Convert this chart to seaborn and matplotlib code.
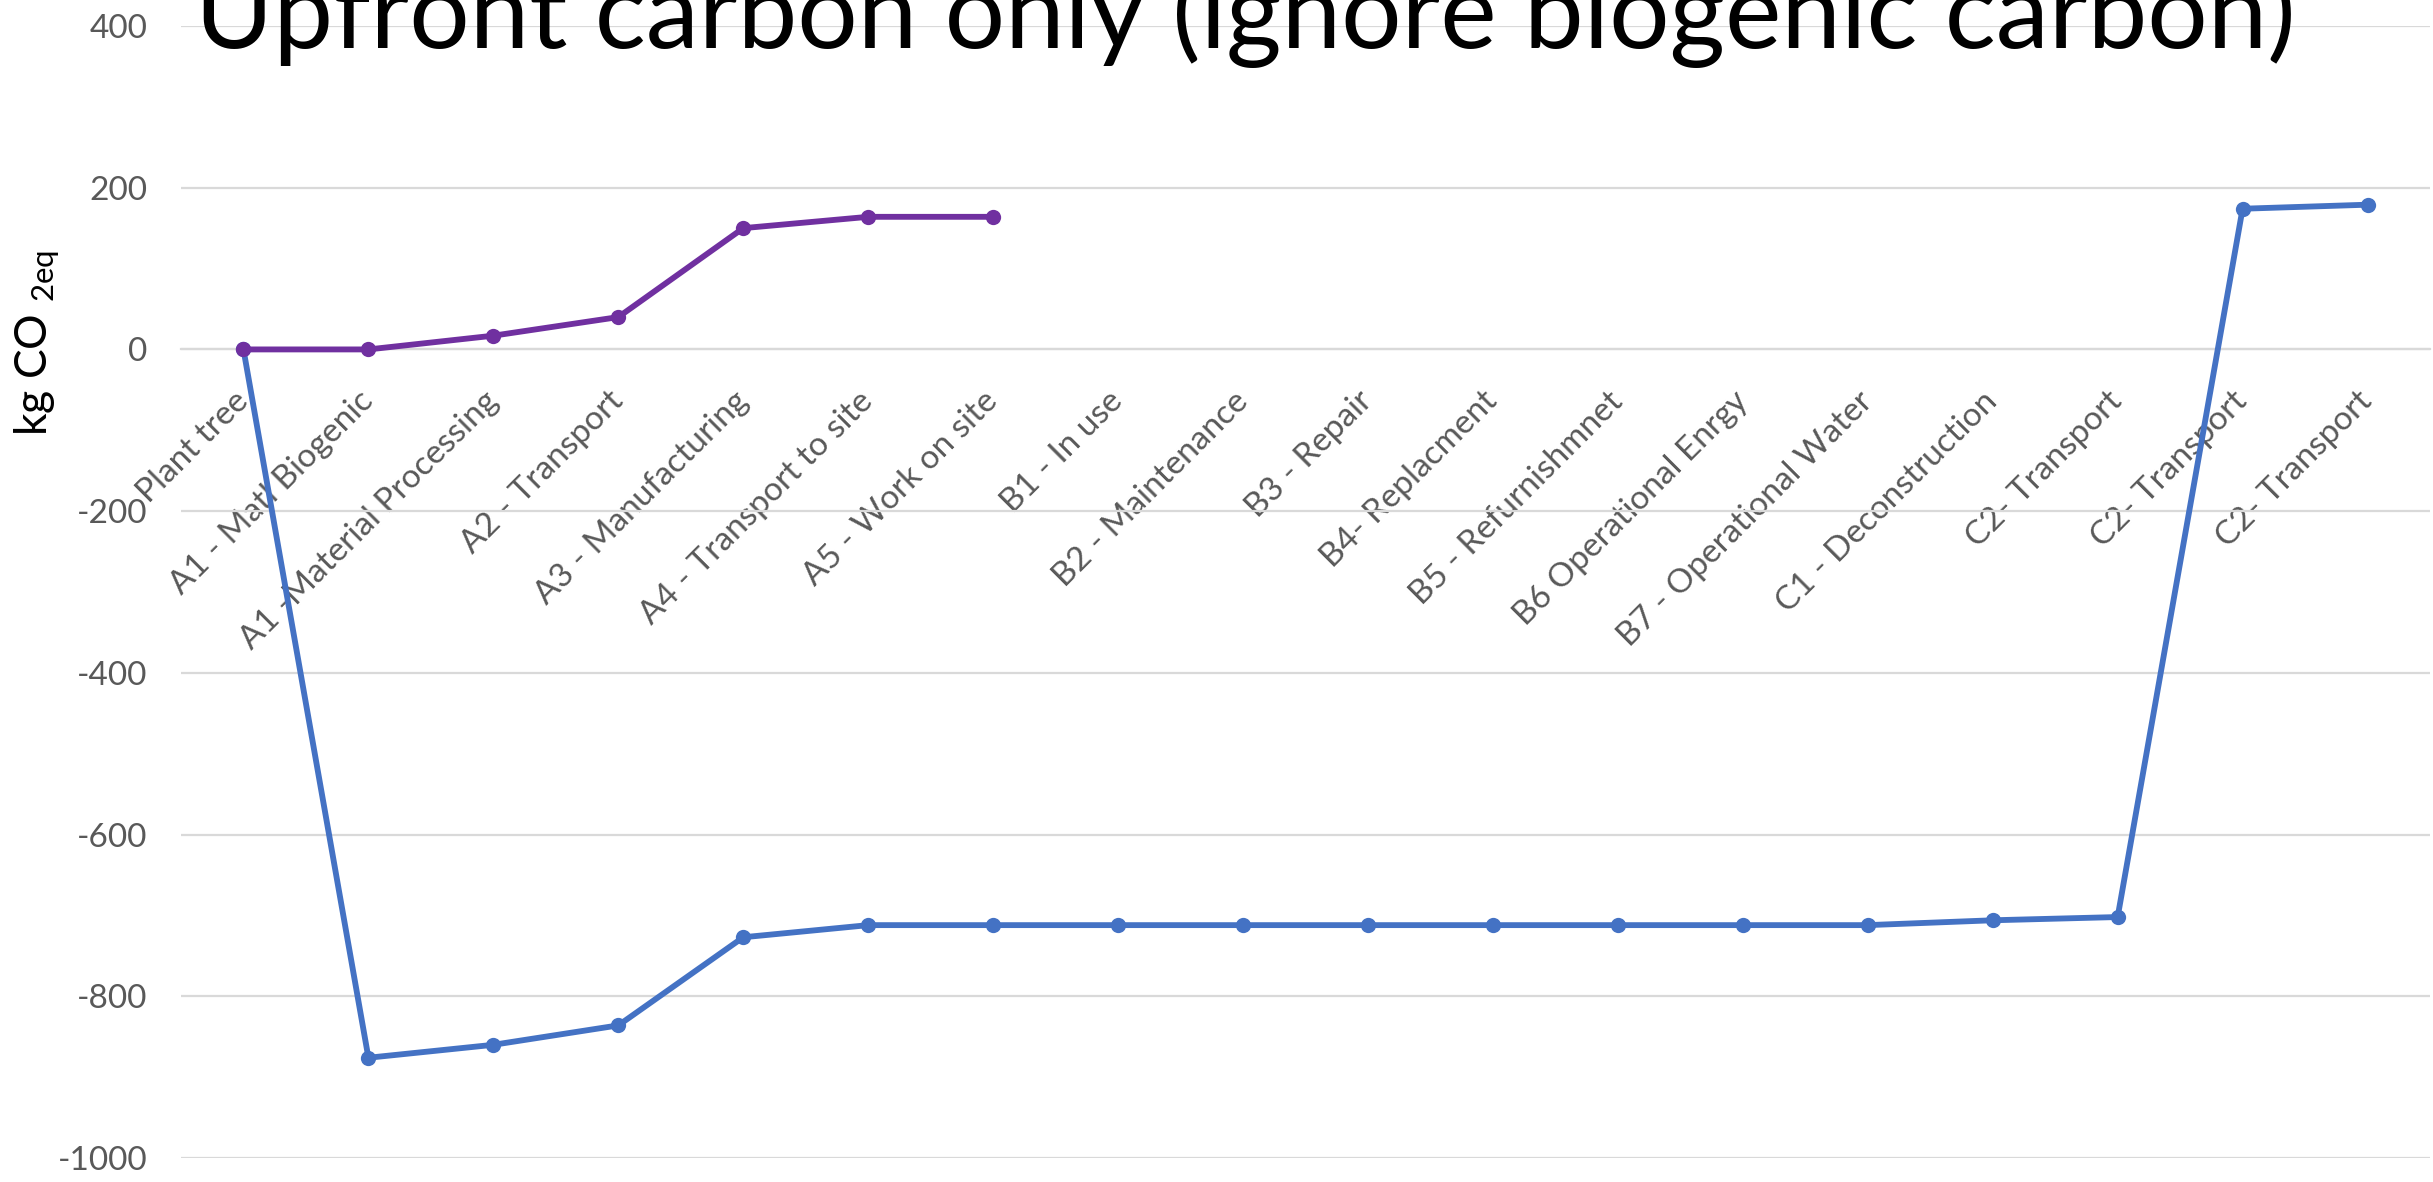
import matplotlib
matplotlib.use("Agg")
import matplotlib.pyplot as plt
import seaborn as sns
import pandas as pd

# Life-cycle stages (EN 15978 modules)
stages = [
    "Plant tree",
    "A1 - Matl Biogenic",
    "A1 -Material Processing",
    "A2 - Transport",
    "A3 - Manufacturing",
    "A4 - Transport to site",
    "A5 - Work on site",
    "B1 - In use",
    "B2 - Maintenance",
    "B3 - Repair",
    "B4- Replacment",
    "B5 - Refurnishmnet",
    "B6 Operational Enrgy",
    "B7 - Operational Water",
    "C1 - Deconstruction",
    "C2- Transport",
    "C2- Transport",
    "C2- Transport",
]

# Cumulative kg CO2eq including biogenic carbon
with_biogenic = [0, -876, -860, -836, -727, -712, -712,
                 -712, -712, -712, -712, -712, -712, -712,
                 -706, -702, 174, 179]

# Cumulative upfront carbon only (A1-A5)
upfront_only = [0, 0, 17, 40, 150, 164, 164]

title = "Upfront carbon only (ignore biogenic carbon)"
y_ticks = [-1000, -800, -600, -400, -200, 0, 200, 400]

BLUE = "#4472C4"
PURPLE = "#7030A0"
TICK_GRAY = "#595959"
GRID_GRAY = "#D9D9D9"

sns.set_theme(style="white")
plt.rcParams["font.family"] = ["Lato", "DejaVu Sans"]
plt.rcParams["mathtext.fontset"] = "custom"
plt.rcParams["mathtext.rm"] = "Lato"

W, H, DPI = 2433, 1182, 100
fig = plt.figure(figsize=(W / DPI, H / DPI), dpi=DPI)
ax = fig.add_axes([181 / W, 1 - 1158 / H, (2430 - 181) / W, (1158 - 26) / H])

df_bio = pd.DataFrame({"pos": range(len(with_biogenic)), "value": with_biogenic})
df_up = pd.DataFrame({"pos": range(len(upfront_only)), "value": upfront_only})

line_kw = dict(marker="o", markersize=11, markeredgewidth=0, linewidth=4.2)
sns.lineplot(data=df_bio, x="pos", y="value", color=BLUE, ax=ax, zorder=3, **line_kw)
sns.lineplot(data=df_up, x="pos", y="value", color=PURPLE, ax=ax, zorder=4, **line_kw)

ax.set_xlim(-0.5, len(stages) - 0.5)
ax.set_ylim(-1000, 400)
ax.set_yticks(y_ticks)
ax.set_yticklabels([str(v) for v in y_ticks])
ax.set_xticks(range(len(stages)))
ax.set_xticklabels(stages)

# horizontal gridlines only, category axis crossing at zero
ax.grid(axis="y", color=GRID_GRAY, linewidth=1.6)
ax.grid(axis="x", visible=False)
ax.set_axisbelow(True)
for side in ["left", "right", "top"]:
    ax.spines[side].set_visible(False)
ax.spines["bottom"].set_position(("data", 0))
ax.spines["bottom"].set_color(GRID_GRAY)
ax.spines["bottom"].set_linewidth(1.6)

ax.tick_params(axis="y", length=0, pad=24, labelsize=24, labelcolor=TICK_GRAY)
ax.tick_params(axis="x", length=0, pad=34, labelsize=24, labelcolor=TICK_GRAY)
for lbl in ax.get_xticklabels():
    lbl.set_rotation(45)
    lbl.set_ha("right")
    lbl.set_va("center")
    lbl.set_rotation_mode("anchor")

ax.set_xlabel("")
ax.set_ylabel(r"kg CO $_{\mathregular{2eq}}$", fontsize=32, color="black",
              ha="center", va="center")
ax.yaxis.set_label_coords(37 / W, 1 - 343 / H, transform=fig.transFigure)

# chart title, sized to span the plot width
t = fig.text(1245 / W, 1 - 48 / H, title, ha="center", va="baseline",
             fontsize=70, fontweight="normal", color="black")
fig.canvas.draw()
bb = t.get_window_extent(renderer=fig.canvas.get_renderer())
t.set_fontsize(70 * 2103 / bb.width)

fig.savefig("out.png", dpi=DPI)
